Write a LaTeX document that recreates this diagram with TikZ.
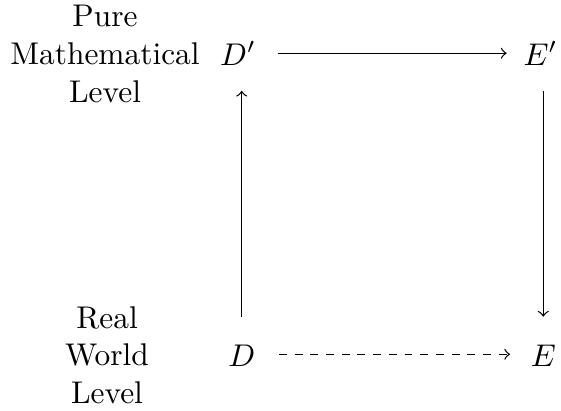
\documentclass[tikz,border=0pt]{standalone}
\usetikzlibrary{calc}
\begin{document}
\begin{tikzpicture}[x=0.3185pt,y=-0.3185pt,
  obj/.style={inner sep=0pt,text height=7.5pt,text depth=0pt,anchor=base},
  lvl/.style={align=center,inner sep=0pt},
  arr/.style={->,line width=0.4pt}]
\useasboundingbox (0,0) rectangle (561,410);
\node[lvl] (top) at (105,54) {Pure\\Mathematical\\Level};
\node[lvl] (bot) at (107,355) {Real\\World\\Level};
\node[obj] (Dp) at (238,65) {$D'$};
\node[obj] (Ep) at (540.5,65) {$E'$};
\node[obj] (D) at (241.7,366) {$D$};
\node[obj] (E) at (543.3,366) {$E$};
\draw[arr,shorten <=6.7pt,shorten >=5.2pt] (Dp) -- (Ep);
\draw[arr,dash pattern=on 2.5pt off 2.5pt,shorten <=7.4pt,shorten >=6.4pt] (D) -- (E);
\draw[arr,shorten <=8pt,shorten >=8pt] (D.north) -- (D.north |- Dp.south);
\draw[arr,shorten <=8pt,shorten >=8pt] (E.north |- Ep.south) -- (E.north);
\end{tikzpicture}
\end{document}
